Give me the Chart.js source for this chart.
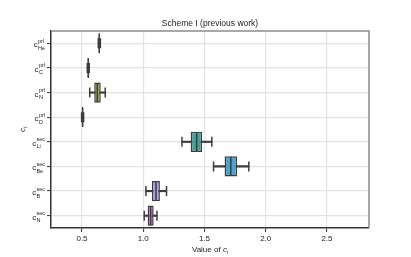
<!DOCTYPE html>
<html>
<head>
<meta charset="utf-8">
<script src="https://cdn.jsdelivr.net/npm/chart.js@4/dist/chart.umd.min.js"></script>
<style>
html,body{margin:0;padding:0;background:#fff;}
#wrap{width:411px;height:257px;}
</style>
</head>
<body>
<div id="wrap"><canvas id="c" width="411" height="257"></canvas></div>
<script>
// ---- data ----
const rowKeys   = ['He_prl','C_prl','N_prl','D_prl','Li_sec','Be_sec','B_sec','N_sec'];
const rowSup    = ['prl','prl','prl','prl','sec','sec','sec','sec'];
const rowSub    = ['He','C','N','D','Li','Be','B','N'];
const whiskLow  = [0.633, 0.543, 0.563, 0.497, 1.316, 1.574, 1.022, 1.008];
const q1        = [0.635, 0.545, 0.600, 0.499, 1.387, 1.664, 1.071, 1.036];
const medians   = [0.641, 0.551, 0.625, 0.505, 1.436, 1.715, 1.104, 1.060];
const q3        = [0.647, 0.557, 0.653, 0.511, 1.481, 1.767, 1.136, 1.085];
const whiskHigh = [0.650, 0.559, 0.690, 0.513, 1.560, 1.862, 1.190, 1.112];
const boxColors = ['#d9707f','#b58a4a','#a0a63e','#4a9e6c','#44a196','#4aa3c8','#ab9de8','#cc72c0'];
const xTicks    = [0.5, 1.0, 1.5, 2.0, 2.5];
const titleText = 'Scheme I (previous work)';

const EDGE = '#3d3d3d';
const FONT = '"Liberation Sans", Arial, sans-serif';

const decor = {
  id: 'decor',
  afterDraw(chart) {
    const ctx = chart.ctx, a = chart.chartArea;
    const ys = chart.scales.y;
    ctx.save();
    // top & right frame
    ctx.strokeStyle = '#8c8c8c';
    ctx.lineWidth = 1.5;
    ctx.beginPath();
    ctx.moveTo(a.left, a.top); ctx.lineTo(a.right, a.top); ctx.lineTo(a.right, a.bottom);
    ctx.stroke();
    // title
    ctx.fillStyle = '#222';
    ctx.font = '8.5px ' + FONT;
    ctx.textAlign = 'center'; ctx.textBaseline = 'middle';
    ctx.fillText(titleText, (a.left + a.right) / 2, 23.5);
    // x title: "Value of c_i"
    ctx.textBaseline = 'alphabetic';
    ctx.textAlign = 'left';
    const p1 = 'Value of ';
    ctx.font = '8px ' + FONT;
    const w1 = ctx.measureText(p1).width;
    ctx.font = 'italic 8px ' + FONT;
    const wc = ctx.measureText('c').width;
    ctx.font = 'italic 5.5px ' + FONT;
    const wi = ctx.measureText('i').width;
    let x0 = (a.left + a.right) / 2 - (w1 + wc + wi) / 2;
    const by = 252;
    ctx.font = '8px ' + FONT; ctx.fillText(p1, x0, by);
    ctx.font = 'italic 8px ' + FONT; ctx.fillText('c', x0 + w1, by);
    ctx.font = 'italic 5.5px ' + FONT; ctx.fillText('i', x0 + w1 + wc, by + 2);
    // y title (rotated)
    ctx.save();
    ctx.translate(25, (a.top + a.bottom) / 2);
    ctx.rotate(-Math.PI / 2);
    ctx.font = 'italic 8px ' + FONT;
    const wcy = ctx.measureText('c').width;
    ctx.font = 'italic 5.5px ' + FONT;
    const wiy = ctx.measureText('i').width;
    const sx = -(wcy + wiy) / 2;
    ctx.font = 'italic 8px ' + FONT; ctx.fillText('c', sx, 0);
    ctx.font = 'italic 5.5px ' + FONT; ctx.fillText('i', sx + wcy, 2);
    ctx.restore();
    // y tick labels  c^{sup}_{sub}
    for (let i = 0; i < rowKeys.length; i++) {
      const y = ys.getPixelForValue(i);
      ctx.font = '8px ' + FONT;
      const cw = ctx.measureText('c').width;
      ctx.font = '5.5px ' + FONT;
      const sw = Math.max(ctx.measureText(rowSup[i]).width, ctx.measureText(rowSub[i]).width);
      const rx = a.left - 6;
      const lx = rx - sw - cw - 0.3;
      ctx.fillStyle = '#222';
      ctx.font = '8px ' + FONT; ctx.fillText('c', lx, y + 4);
      ctx.font = '5.5px ' + FONT;
      ctx.fillText(rowSup[i], lx + cw + 0.3, y - 0.5);
      ctx.fillText(rowSub[i], lx + cw + 0.3, y + 6.5);
    }
    ctx.restore();
  }
};

const ctx = document.getElementById('c').getContext('2d');
new Chart(ctx, {
  type: 'bar',
  data: {
    labels: rowKeys,
    datasets: [
      { // whisker line
        type: 'bar', indexAxis: 'y', grouped: false, order: 4,
        data: whiskLow.map((v, i) => [v, whiskHigh[i]]),
        backgroundColor: EDGE, borderWidth: 0, barThickness: 1.5
      },
      { // box
        type: 'bar', indexAxis: 'y', grouped: false, order: 3,
        data: q1.map((v, i) => [v, q3[i]]),
        backgroundColor: boxColors, borderColor: EDGE, borderWidth: 1.5, borderSkipped: false,
        barPercentage: 0.82, categoryPercentage: 1.0
      },
      { // caps
        type: 'scatter', order: 2,
        data: whiskLow.map((v, i) => ({x: v, y: rowKeys[i]})).concat(whiskHigh.map((v, i) => ({x: v, y: rowKeys[i]}))),
        pointStyle: 'line', rotation: 90, radius: 5, borderColor: EDGE, borderWidth: 1.5, backgroundColor: EDGE
      },
      { // medians
        type: 'scatter', order: 1,
        data: medians.map((v, i) => ({x: v, y: rowKeys[i]})),
        pointStyle: 'line', rotation: 90, radius: 9.6, borderColor: EDGE, borderWidth: 1.5, backgroundColor: EDGE
      }
    ]
  },
  options: {
    responsive: false,
    animation: false,
    devicePixelRatio: 1,
    layout: { padding: { top: 31, right: 42, left: 0, bottom: 0 } },
    plugins: { legend: { display: false }, tooltip: { enabled: false }, title: { display: false } },
    scales: {
      x: {
        type: 'linear', position: 'bottom', min: 0.247, max: 2.843, offset: false,
        afterBuildTicks: s => { s.ticks = xTicks.map(v => ({ value: v })); },
        afterFit: s => { s.height = 29; },
        grid: { offset: false, color: '#e3e3e3', lineWidth: 1.2, tickColor: '#333', tickLength: 4, tickWidth: 1 },
        border: { color: '#333', width: 1.5 },
        ticks: { color: '#222', font: { family: FONT, size: 8 }, padding: 2, maxRotation: 0,
                 callback: v => Number(v).toFixed(1) }
      },
      y: {
        type: 'category', position: 'left', offset: true,
        afterFit: s => { s.width = 51; },
        grid: { offset: false, color: '#e3e3e3', lineWidth: 1.2, tickColor: '#333', tickLength: 4, tickWidth: 1 },
        border: { color: '#333', width: 1.5 },
        ticks: { display: false }
      }
    }
  },
  plugins: [decor]
});
</script>
</body>
</html>
